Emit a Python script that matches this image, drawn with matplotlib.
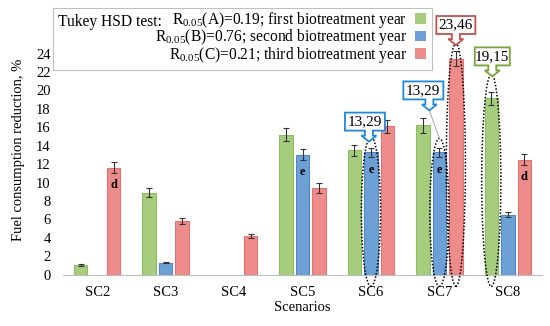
import matplotlib
matplotlib.use('Agg')
import matplotlib.pyplot as plt
import matplotlib.transforms as mtransforms
from matplotlib.patches import Ellipse, Polygon, Rectangle
import numpy as np

plt.rcParams['font.family'] = ['Liberation Serif', 'DejaVu Serif']
plt.rcParams['mathtext.fontset'] = 'custom'
plt.rcParams['mathtext.rm'] = 'Liberation Serif'
plt.rcParams['mathtext.it'] = 'Liberation Serif:italic'
plt.rcParams['mathtext.bf'] = 'Liberation Serif:bold'

# data
scenarios = ['SC2', 'SC3', 'SC4', 'SC5', 'SC6', 'SC7', 'SC8']
first = [1.0, 8.9, np.nan, 15.2, 13.5, 16.2, 19.15]
second = [np.nan, 1.3, np.nan, 13.0, 13.29, 13.29, 6.5]
third = [11.6, 5.8, 4.2, 9.4, 16.1, 23.46, 12.5]
first_err = [0.1, 0.5, 0, 0.7, 0.6, 0.8, 0.7]
second_err = [0, 0.1, 0, 0.6, 0.5, 0.5, 0.25]
third_err = [0.6, 0.3, 0.25, 0.5, 0.7, 0.8, 0.6]
labels = ['R$_{0.05}$(A)=0.19; first biotreatment year',
          'R$_{0.05}$(B)=0.76; second biotreatment year',
          'R$_{0.05}$(C)=0.21; third biotreatment year']
letters = [(0, 2, 'd'), (3, 1, 'e'), (4, 1, 'e'), (5, 1, 'e'), (6, 2, 'd')]

colors = ['#A5CD7D', '#6CA0D6', '#EE8B8B']
edges = ['#8FBC62', '#5289C4', '#E27373']

fig = plt.figure(figsize=(5.5, 3.26), dpi=100)
ax = fig.add_axes([63/550, 51.5/326, 479/550, 248.4/326])

x = np.arange(len(scenarios))
offs = [-0.241, 0, 0.241]
w = 0.197
series = [first, second, third]
errs = [first_err, second_err, third_err]
bars = []
for i in range(3):
    b = ax.bar(x + offs[i], series[i], w, yerr=errs[i], color=colors[i],
               edgecolor=edges[i], linewidth=0.8, zorder=2,
               error_kw=dict(ecolor='#333333', elinewidth=0.8, capsize=2, capthick=0.8))
    bars.append(b)

ax.set_xlim(-0.5, len(scenarios) - 0.5)
ax.set_ylim(0, 27)
ax.set_yticks(range(0, 25, 2))
ax.set_xticks(x)
ax.set_xticklabels(scenarios)
ax.tick_params(axis='both', length=0, labelsize=10.5)
ax.tick_params(axis='x', pad=8)
ax.tick_params(axis='y', pad=9)
for s in ['top', 'right', 'left']:
    ax.spines[s].set_visible(False)
ax.spines['bottom'].set_color('#BFBFBF')
ax.set_xlabel('Scenarios', fontsize=10.5, labelpad=2)
ax.set_ylabel('Fuel consumption reduction, %', fontsize=10.5, labelpad=8)

# letters inside bars
for g, s, t in letters:
    ax.text(x[g] + offs[s], series[s][g] - 1.9, t, ha='center', va='center',
            fontsize=9, fontweight='bold', zorder=4)

# dotted ellipses
ell = [(4, 1, 1.7), (5, 1, 1.5), (5, 2, 1.7), (6, 0, 2.6)]
for g, s, pad in ell:
    top = series[s][g] + pad
    bot = -1.3
    ax.add_patch(Ellipse((x[g] + offs[s], (top + bot) / 2), 0.28, top - bot,
                         fill=False, ec='black', lw=1.1, ls=(0, (1, 1.2)),
                         clip_on=False, zorder=3))


def callout(xd, yd, text, color, tdx, tdy, bdx, bw, leader=None):
    trans = fig.dpi_scale_trans + mtransforms.ScaledTranslation(xd, yd, ax.transData)
    L, h, hl, hw, sw = 11, 18, 6, 7.5, 4
    pts = [(tdx + bdx - bw/2, tdy + L), (tdx - sw, tdy + L), (tdx - sw, tdy + hl),
           (tdx - hw, tdy + hl), (tdx, tdy), (tdx + hw, tdy + hl), (tdx + sw, tdy + hl),
           (tdx + sw, tdy + L), (tdx + bdx + bw/2, tdy + L), (tdx + bdx + bw/2, tdy + L + h),
           (tdx + bdx - bw/2, tdy + L + h)]
    pts = [(px / 100, py / 100) for px, py in pts]
    ax.add_patch(Polygon(pts, closed=True, fc='white', ec=color, lw=1.3,
                         transform=trans, clip_on=False, zorder=6))
    ax.text((tdx + bdx) / 100, (tdy + L + h/2) / 100, text, transform=trans,
            ha='center', va='center', fontsize=11, zorder=7)
    if leader:
        ax.plot([tdx / 100, 0], [tdy / 100, 0], color='#A6A6A6', lw=0.7,
                transform=trans, clip_on=False, zorder=5)


calls = [(4, 1, '#1F8ADB', -2, -5, -4, 40, False),
         (5, 1, '#1F8ADB', -10, 28, -6, 40, True),
         (5, 2, '#C0504D', 0, -2, 0, 39, False),
         (6, 0, '#77A33A', 1, -2, 0, 35, False)]
pads = {(g, s): p for g, s, p in ell}
for g, s, c, tdx, tdy, bdx, bw, lead in calls:
    v = series[s][g]
    callout(x[g] + offs[s], v + pads[(g, s)], f'{v:.2f}'.replace('.', ','), c,
            tdx, tdy, bdx, bw, lead)

# legend with a frame that also holds the "Tukey HSD test:" caption
ax.add_patch(Rectangle((53/550, 1 - 70/326), (432 - 53)/550, 62/326,
                       transform=fig.transFigure, fc='white', ec='#BFBFBF',
                       lw=0.8, clip_on=False, zorder=8))
leg = ax.legend(bars, labels, loc='upper right', bbox_to_anchor=(430/550, 1 - 6/326),
                bbox_transform=fig.transFigure, frameon=False, markerfirst=False,
                handlelength=0.7, handleheight=0.7, handletextpad=0.5,
                labelspacing=-0.16, fontsize=11.2, borderpad=0.25, borderaxespad=0)
leg.set_zorder(9)
for hnd in leg.legend_handles:
    hnd.set_edgecolor('none')
fig.canvas.draw()
bb = leg.get_texts()[0].get_window_extent().transformed(fig.transFigure.inverted())
ax.text(58/550, bb.y0, 'Tukey HSD test:', transform=fig.transFigure,
        ha='left', va='bottom', fontsize=11.2, zorder=10)

fig.savefig('out.png', dpi=100)
